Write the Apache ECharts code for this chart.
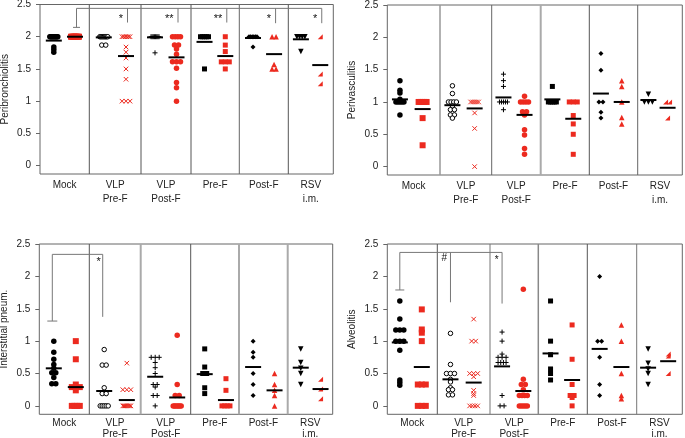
<!DOCTYPE html>
<html><head><meta charset="utf-8">
<script src="https://cdn.jsdelivr.net/npm/echarts@6/dist/echarts.min.js"></script>
<style>html,body{margin:0;padding:0;background:#fff}#c{width:685px;height:438px}</style>
</head><body><div id="c"></div>
<script>
// ================= DATA =================
const groups = ['Mock', 'VLP\nPre-F', 'VLP\nPost-F', 'Pre-F', 'Post-F', 'RSV\ni.m.'];
const yTickValues = [0, 0.5, 1, 1.5, 2, 2.5];
const yTickLabels = ['0', '0.5', '1', '1.5', '2', '2.5'];
const panelTitles = ['Peribronchiolitis', 'Perivasculitis', 'Interstitial pneum.', 'Alveolitis'];

// Peribronchiolitis
const pbBlack = [
  [2,2,2,2,2,2,2,2,2,2,1.84,1.8,1.76],
  [2,2,2,2,2,2,2,2,1.87,1.87],
  [2,2,2,2,2,2,2,2,1.75],
  [2,2,2,2,2,1.5],
  [2,2,2,2,2,2,1.84],
  [2,2,2,2,1.77]
];
const pbRed = [
  [2,2,2,2,2,2,2,2,2,2],
  [2,2,2,2,2,2,1.84,1.76,1.67,1.5,1.34,1,1,1],
  [2,2,2,2,1.87,1.87,1.81,1.73,1.61,1.61,1.61,1.51,1.29,1.21,1],
  [2,1.87,1.77,1.61,1.61,1.61,1.5],
  [2,2,1.57,1.5,1.5],
  [2,1.42,1.27]
];
const pbBlackMean = [1.94, 1.99, 1.99, 1.92, 1.98, 1.96];
const pbRedMean   = [2.0, 1.70, 1.68, 1.70, 1.73, 1.56];

// Perivasculitis
const pvBlack = [
  [1.33,1.18,1.14,1.04,1,1,1,1,1,0.8],
  [1.25,1.13,1,1,1,1,0.94,0.88,0.88,0.8,0.8,0.75],
  [1.43,1.33,1.24,1,1,1,1,1,0.88],
  [1.24,1,1,1,1,1],
  [1.75,1.49,1,1,0.84,0.75],
  [1.12,1,1,1]
];
const pvRed = [
  [1,1,1,1,1,0.75,0.33],
  [1,1,1,1,1,0.83,0.59,0],
  [1.09,1,1,1,1,0.85,0.85,0.8,0.57,0.49,0.28,0.19],
  [1,1,1,0.79,0.66,0.5,0.19],
  [1.33,1.24,1,0.76,0.66],
  [1,1,0.75]
];
const pvBlackMean = [1.04, 0.95, 1.07, 1.04, 1.13, 1.03];
const pvRedMean   = [0.89, 0.90, 0.80, 0.74, 1.00, 0.91];

// Interstitial pneumonia
const ipBlack = [
  [1,0.83,0.72,0.64,0.58,0.51,0.51,0.44,0.34,0.34],
  [0.87,0.63,0.63,0.28,0.19,0.19,0,0,0,0,0],
  [0.75,0.75,0.75,0.67,0.59,0.5,0.33,0.33,0.29,0.16,0.16,0],
  [0.88,0.6,0.5,0.5,0.28,0.19],
  [1,0.83,0.75,0.5,0.33,0.16],
  [0.88,0.67,0.58,0.5,0.33]
];
const ipRed = [
  [1,0.72,0.33,0.29,0.29,0.29,0.24,0,0,0,0],
  [0.66,0.25,0.25,0.25,0,0,0,0,0,0,0,0],
  [1.09,0.33,0.16,0.16,0,0,0,0,0,0,0],
  [0.42,0.24,0,0,0,0],
  [0.5,0.33,0.24,0.16,0],
  [0.41,0.26,0.11]
];
const ipBlackMean = [0.58, 0.23, 0.45, 0.49, 0.60, 0.59];
const ipRedMean   = [0.29, 0.09, 0.13, 0.09, 0.24, 0.26];

// Alveolitis
const alBlack = [
  [1.62,1.34,1.17,1.17,1.17,1,1,1,0.86,0.4,0.36,0.32],
  [1.12,0.64,0.5,0.5,0.5,0.41,0.37,0.28,0.25,0.25,0.17,0.17],
  [1.14,1,0.8,0.75,0.75,0.75,0.67,0.67,0.67,0.67,0.16,0,0],
  [1.62,1,0.79,0.57,0.5,0.4],
  [2,1,1,0.75,0.33,0.16],
  [0.88,0.66,0.57,0.5,0.33]
];
const alRed = [
  [1.49,1.18,1.13,1,0.33,0.33,0.33,0,0,0],
  [1.34,1,1,0.5,0.5,0.5,0.45,0.24,0.19,0.16,0,0,0,0],
  [1.8,0.41,0.33,0.33,0.25,0.16,0.16,0.16,0.16,0,0,0,0,0],
  [1.25,0.72,0.33,0.16,0.16,0.13,0],
  [1.25,1,0.5,0.16,0.11],
  [0.8,0.77,0.5]
];
const alBlackMean = [0.98, 0.41, 0.61, 0.81, 0.88, 0.59];
const alRedMean   = [0.60, 0.36, 0.23, 0.40, 0.60, 0.69];

// significance annotations
const pbSig = ['*', '**', '**', '*', '*'];
const alSig = ['#', '*'];
const ipSig = ['*'];

// ================= LAYOUT / STYLE =================
const RED = '#ec2a1f';
const panelData = [
  {black: pbBlack, red: pbRed, bMean: pbBlackMean, rMean: pbRedMean},
  {black: pvBlack, red: pvRed, bMean: pvBlackMean, rMean: pvRedMean},
  {black: ipBlack, red: ipRed, bMean: ipBlackMean, rMean: ipRedMean},
  {black: alBlack, red: alRed, bMean: alBlackMean, rMean: alRedMean}
];
const layout = [
  {left:40, top:4.5, width:293.3, height:169.5, bounds:[40,89.3,141,191,239.3,288.3,333.3], bPos:0.28, rPos:0.71, lineH:14, labMargin:4,
   div:[['#555',1],['#555',1],['#555',1],['#666',1],['#555',1]]},
  {left:387.3, top:5, width:295, height:170, bounds:[387.3,440,491.7,540.7,589.3,637.7,682.3], bPos:0.24, rPos:0.67, lineH:14, labMargin:4,
   div:[['#999',1.5],['#666',1],['#aaa',2],['#555',1],['#666',1]]},
  {left:39.3, top:244, width:293.4, height:170.3, bounds:[39.3,89.3,140.7,190.7,239,287.7,332.7], bPos:0.29, rPos:0.73, lineH:11, labMargin:3,
   div:[['#555',1],['#aaa',2],['#555',1],['#aaa',2],['#aaa',2]]},
  {left:387.3, top:244, width:295, height:170.3, bounds:[387.3,437.3,490,538.3,587.3,636.7,682.3], bPos:0.25, rPos:0.69, lineH:11, labMargin:3,
   div:[['#555',1],['#777',1],['#888',1.5],['#555',1],['#777',1]]}
];
const brackets = [
  {from:{g:0,c:'r'}, capY:2.145, capW:7, topY:2.44, dx:1.5, textY:2.31, gap:4.5, font:11,
   drops:[{g:1,c:'r',y:2.22,t:pbSig[0]},{g:2,c:'r',y:2.22,t:pbSig[1]},{g:3,c:'r',y:2.22,t:pbSig[2]},{g:4,c:'r',y:2.21,t:pbSig[3]},{g:5,c:'r',y:2.21,t:pbSig[4]}]},
  null,
  {from:{g:0,c:'b'}, capY:1.31, capW:10, topY:2.34, dx:-1.5, textY:2.255, gap:2, font:11,
   drops:[{g:1,c:'b',y:1.375,t:ipSig[0]}]},
  {from:{g:0,c:'b'}, capY:1.79, capW:9, topY:2.37, dx:0, textY:2.28, gap:3.5, font:10,
   drops:[{g:1,c:'b',y:1.6,t:alSig[0]},{g:2,c:'b',y:1.58,t:alSig[1]}]}
];

const blackSym = [
  {symbol:'circle', size:5.5, fill:'#000'},
  {symbol:'circle', size:4.5, fill:'#fff', stroke:'#000'},
  {symbol:'path://M5,0V10M0,5H10', size:5, fill:'#000', stroke:'#000'},
  {symbol:'rect', size:5, fill:'#000'},
  {symbol:'diamond', size:5, fill:'#000'},
  {symbol:'triangle', size:5.5, fill:'#000', rotate:180}
];
const redSym = [
  {symbol:'rect', size:6, fill:RED},
  {symbol:'path://M0,0L10,10M10,0L0,10', size:4.5, fill:RED, stroke:RED},
  {symbol:'circle', size:5.5, fill:RED},
  {symbol:'rect', size:5, fill:RED},
  {symbol:'triangle', size:5.5, fill:RED},
  {symbol:'path://M10,0V10H0Z', size:5, fill:RED}
];

const YMIN = -0.13, YMAX = 2.5;
function posOf(p, c) { return c === 'b' ? layout[p].bPos : layout[p].rPos; }
function xOf(p, g, pos) { const L = layout[p], b = L.bounds; return b[g] - L.left + pos * (b[g+1] - b[g]); }
function spread(vals, s, maxSpan) {
  const n = {}, k = {};
  vals.forEach(v => n[v] = (n[v] || 0) + 1);
  return vals.map(v => {
    k[v] = (k[v] === undefined) ? 0 : k[v] + 1;
    if (n[v] === 1) return 0;
    const step = Math.min(s, maxSpan / (n[v] - 1));
    return (k[v] - (n[v] - 1) / 2) * step;
  });
}

const grids = [], xAxes = [], yAxes = [], series = [];
layout.forEach((L, p) => {
  grids.push({left:L.left, top:L.top, width:L.width, height:L.height, show:true, borderColor:'#666', borderWidth:1,
              backgroundColor:'transparent', containLabel:false, outerBoundsMode:'none'});
  const centers = groups.map((_, g) => (L.bounds[g] + L.bounds[g+1]) / 2 - L.left);
  xAxes.push({type:'value', gridIndex:p, min:0, max:L.width,
    axisLine:{show:false}, axisTick:{show:false}, splitLine:{show:false},
    axisLabel:{customValues:centers, fontSize:10, color:'#222', lineHeight:L.lineH, margin:L.labMargin,
      fontFamily:'Liberation Sans, Arial, sans-serif',
      formatter:(v) => { let bi = 0, bd = 1e9; centers.forEach((c, i) => { const d = Math.abs(c - v); if (d < bd) { bd = d; bi = i; } }); return groups[bi]; }}});
  yAxes.push({type:'value', gridIndex:p, min:YMIN, max:YMAX,
    name:panelTitles[p], nameLocation:'middle', nameGap:30,
    nameTextStyle:{fontSize:10, color:'#222', fontFamily:'Liberation Sans, Arial, sans-serif'},
    axisLine:{show:false}, splitLine:{show:false},
    axisTick:{show:true, length:4, customValues:yTickValues, lineStyle:{color:'#666'}},
    axisLabel:{customValues:yTickValues, fontSize:10, color:'#222', margin:9, fontFamily:'Liberation Sans, Arial, sans-serif',
      formatter:(v) => yTickLabels[yTickValues.findIndex(t => Math.abs(t - v) < 1e-6)] || ''}});

  // dividers
  series.push({type:'custom', xAxisIndex:p, yAxisIndex:p, z:1, silent:true, data:[[0, 0]],
    renderItem:(params, api) => {
      const ch = [];
      for (let i = 1; i < 6; i++) {
        const x = L.bounds[i] - L.left;
        const a = api.coord([x, YMIN]), b = api.coord([x, YMAX]);
        ch.push({type:'line', shape:{x1:a[0], y1:a[1], x2:b[0], y2:b[1]}, style:{stroke:L.div[i-1][0], lineWidth:L.div[i-1][1]}});
      }
      return {type:'group', children:ch};
    }});

  // points
  const D = panelData[p];
  const pts = [];
  for (let g = 0; g < 6; g++) {
    [['b', D.black[g], blackSym[g]], ['r', D.red[g], redSym[g]]].forEach(([c, vals, sym]) => {
      const cx = xOf(p, g, posOf(p, c));
      const offs = spread(vals, 4, 8);
      vals.forEach((v, i) => pts.push({value:[cx + offs[i], v], symbol:sym.symbol, symbolSize:sym.size,
        symbolRotate:sym.rotate || 0,
        itemStyle:{color:sym.fill, borderColor:sym.stroke || sym.fill, borderWidth:sym.stroke ? 1 : 0, opacity:1}}));
    });
  }
  series.push({type:'scatter', xAxisIndex:p, yAxisIndex:p, z:3, silent:true, data:pts, animation:false});

  // means
  const means = [];
  for (let g = 0; g < 6; g++) {
    means.push([xOf(p, g, posOf(p, 'b')), D.bMean[g]]);
    means.push([xOf(p, g, posOf(p, 'r')), D.rMean[g]]);
  }
  series.push({type:'custom', xAxisIndex:p, yAxisIndex:p, z:4, silent:true, data:means,
    renderItem:(params, api) => {
      const c = api.coord([api.value(0), api.value(1)]);
      return {type:'line', shape:{x1:c[0] - 8, y1:c[1], x2:c[0] + 8, y2:c[1]}, style:{stroke:'#000', lineWidth:2}};
    }});

  // brackets
  const B = brackets[p];
  if (B) {
    series.push({type:'custom', xAxisIndex:p, yAxisIndex:p, z:5, silent:true, data:[[0, 0]],
      renderItem:(params, api) => {
        const ch = [];
        const ln = (x1, y1, x2, y2) => ch.push({type:'line', shape:{x1, y1, x2, y2}, style:{stroke:'#777', lineWidth:1}});
        const fx = xOf(p, B.from.g, posOf(p, B.from.c)) + B.dx;
        const cap = api.coord([fx, B.capY]), top = api.coord([fx, B.topY]);
        ln(cap[0] - B.capW / 2, cap[1], cap[0] + B.capW / 2, cap[1]);
        ln(cap[0], cap[1], top[0], top[1]);
        let last = top;
        B.drops.forEach(d => {
          const x = xOf(p, d.g, posOf(p, d.c)) + B.dx;
          const a = api.coord([x, B.topY]), b = api.coord([x, d.y]);
          ln(a[0], a[1], b[0], b[1]);
          last = a;
          const t = api.coord([x, B.textY]);
          const shift = d.t.indexOf('*') >= 0 ? 2.5 : 0;
          ch.push({type:'text', style:{text:d.t, x:t[0] - B.gap, y:t[1] + shift, align:'right', verticalAlign:'middle',
            fontSize:B.font, fill:'#111', fontFamily:'Liberation Sans, Arial, sans-serif'}});
        });
        ln(top[0], top[1], last[0], last[1]);
        return {type:'group', children:ch};
      }});
  }
});

const chart = echarts.init(document.getElementById('c'), null, {renderer:'canvas'});
chart.setOption({animation:false, backgroundColor:'#fff', grid:grids, xAxis:xAxes, yAxis:yAxes, series:series});
</script>
</body></html>
